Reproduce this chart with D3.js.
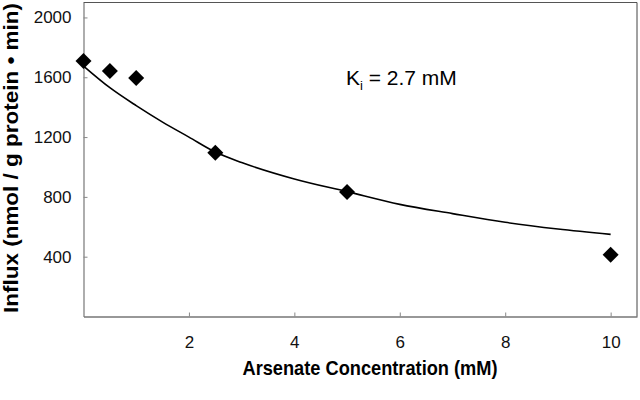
<!DOCTYPE html>
<html>
<head>
<meta charset="utf-8">
<script src="https://cdn.jsdelivr.net/npm/d3@7"></script>
<style>
  html, body { margin: 0; padding: 0; background: #fff; }
  svg { display: block; font-family: "Liberation Sans", Arial, sans-serif; }
</style>
</head>
<body>
<svg id="chart" width="640" height="400"></svg>
<script>
// Observed data points (arsenate concentration, mM) vs influx
const pointX = [0, 0.5, 1, 2.5, 5, 10];
const pointY = [1708, 1642, 1595, 1095, 833, 413];

// Fitted curve
const curveX = [0, 0.5, 1, 1.5, 2, 2.5, 3, 4, 5, 6, 7, 8, 9, 10];
const curveY = [1675, 1530, 1410, 1300, 1200, 1100, 1030, 920, 835, 750, 688, 630, 585, 549];

const xTicks = [2, 4, 6, 8, 10];
const yTicks = [400, 800, 1200, 1600, 2000];

const xTitle = "Arsenate Concentration (mM)";
const yTitle = "Influx (nmol / g protein \u2022 min)";

const svg = d3.select("#chart");
const pLeft = 83.5, pRight = 637, pTop = 2.5, pBottom = 316.5;

const x = d3.scaleLinear().domain([0, 10.5]).range([pLeft, pRight]);
const y = d3.scaleLinear().domain([0, 2100]).range([pBottom, pTop]);

// frame top & right
svg.append("line").attr("x1", pLeft).attr("x2", pRight).attr("y1", pTop).attr("y2", pTop)
  .attr("stroke", "#555").attr("stroke-width", 1);
svg.append("line").attr("x1", pRight).attr("x2", pRight).attr("y1", pTop).attr("y2", pBottom)
  .attr("stroke", "#444").attr("stroke-width", 1);

// axes
const xAxis = d3.axisBottom(x).tickValues(xTicks).tickFormat(d3.format("d"))
  .tickSizeInner(-4).tickSizeOuter(0).tickPadding(19);
const gx = svg.append("g").attr("transform", `translate(0,${pBottom})`).call(xAxis);
gx.select(".domain").attr("stroke", "#333").attr("stroke-width", 1.2);
gx.selectAll(".tick line").attr("stroke", "#888");
gx.selectAll("text").attr("font-size", 17).attr("fill", "#111")
  .attr("font-family", "'Liberation Sans', Arial, sans-serif");

const yAxis = d3.axisLeft(y).tickValues(yTicks).tickFormat(d3.format("d"))
  .tickSizeInner(-4).tickSizeOuter(0).tickPadding(12);
const gy = svg.append("g").attr("transform", `translate(${pLeft},0)`).call(yAxis);
gy.select(".domain").attr("stroke", "#777").attr("stroke-width", 1.2);
gy.selectAll(".tick line").attr("stroke", "#888");
gy.selectAll("text").attr("font-size", 17).attr("fill", "#111")
  .attr("font-family", "'Liberation Sans', Arial, sans-serif");

// fitted curve
const line = d3.line().x(d => x(d[0])).y(d => y(d[1])).curve(d3.curveMonotoneX);
svg.append("path").datum(curveX.map((v, i) => [v, curveY[i]]))
  .attr("d", line).attr("fill", "none").attr("stroke", "#000").attr("stroke-width", 1.6);

// diamond markers
const diamond = "M0,-8L8,0L0,8L-8,0Z";
svg.selectAll("path.pt").data(pointX.map((v, i) => [v, pointY[i]]))
  .enter().append("path").attr("class", "pt")
  .attr("d", diamond)
  .attr("transform", d => `translate(${x(d[0])},${y(d[1])})`)
  .attr("fill", "#000");

// Ki annotation
const ki = svg.append("text").attr("x", 346).attr("y", 85)
  .attr("font-size", 21).attr("fill", "#000");
ki.append("tspan").text("K");
ki.append("tspan").attr("font-size", 13).attr("dy", 5).text("i");
ki.append("tspan").attr("dy", -5).text(" = 2.7 mM");

// axis titles
svg.append("text").attr("x", 370).attr("y", 375).attr("text-anchor", "middle")
  .attr("font-size", 21).attr("font-weight", "bold").attr("fill", "#000")
  .attr("textLength", 255).attr("lengthAdjust", "spacingAndGlyphs")
  .text(xTitle);

svg.append("text").attr("transform", "translate(18,158) rotate(-90)")
  .attr("text-anchor", "middle")
  .attr("font-size", 21).attr("font-weight", "bold").attr("fill", "#000")
  .attr("textLength", 310).attr("lengthAdjust", "spacingAndGlyphs")
  .text(yTitle);
</script>
</body>
</html>
